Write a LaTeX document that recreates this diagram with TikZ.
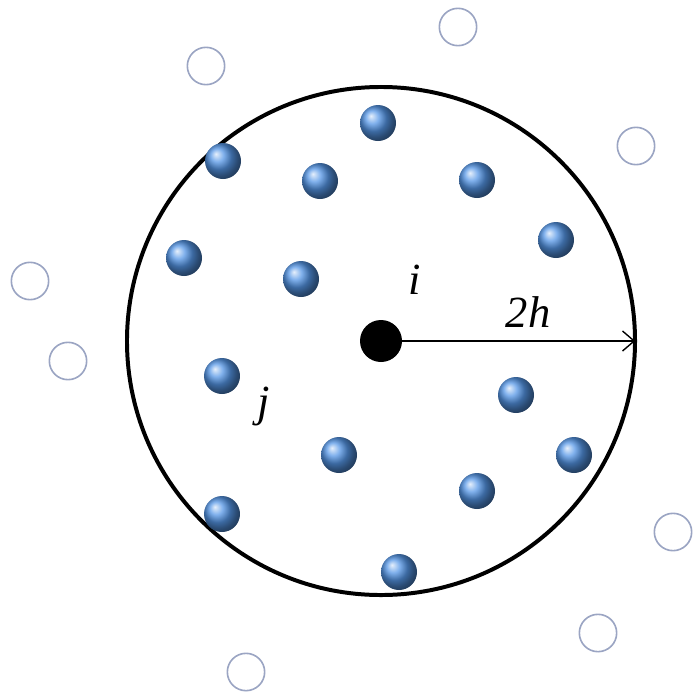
\documentclass[tikz,border=0pt]{standalone}
\usepackage{fontspec}
\setmainfont{Liberation Serif}
\usepackage{tikz}
\usetikzlibrary{arrows.meta}
\usepackage{xcolor}
\definecolor{particleblue}{RGB}{85,150,230}
\definecolor{ghostgray}{RGB}{155,165,195}
\tikzset{
    particle/.style={circle, inner sep=0pt, minimum size=1.08cm, shading=ball, ball color=particleblue},
    ghost/.style={circle, inner sep=0pt, minimum size=1.12cm, draw=ghostgray, line width=1.4pt},
    bigfont/.style={font=\fontsize{38}{46}\selectfont\itshape}
}

\begin{document}
\begin{tikzpicture}[x=0.03cm, y=-0.03cm, >={Straight Barb[length=0.35cm, width=0.6cm, line width=1.2pt]}]
    \useasboundingbox (0,0) rectangle (692,698);

    % Support domain of particle i
    \node[draw, circle, line width=3.4pt, inner sep=0pt, minimum size=15.24cm] (domain) at (381,341) {};

    % Particle i
    \node[circle, fill=black, inner sep=0pt, minimum size=1.26cm] (i) at (381,341) {};
    \node[bigfont] (ilabel) at (415,280) {i};

    % Radius 2h
    \draw[->, line width=1.6pt, shorten >=1.5pt] (i.east) -- (domain.east);
    \node[bigfont] (rlabel) at (528,312) {2h};

    % Neighbour particles j
    \node[particle] (p1) at (378,123) {};
    \node[particle] (p2) at (223,161) {};
    \node[particle] (p3) at (320,181) {};
    \node[particle] (p4) at (477,180) {};
    \node[particle] (p5) at (556,240) {};
    \node[particle] (p6) at (184,258) {};
    \node[particle] (p7) at (301,279) {};
    \node[particle] (p8) at (222,376) {};
    \node[particle] (p9) at (516,395) {};
    \node[particle] (p10) at (339,455) {};
    \node[particle] (p11) at (574,455) {};
    \node[particle] (p12) at (477,491) {};
    \node[particle] (p13) at (222,514) {};
    \node[particle] (p14) at (399,572) {};
    \node[bigfont] (jlabel) at (264,406) {j};

    % Particles outside the domain
    \node[ghost] (g1) at (458,27) {};
    \node[ghost] (g2) at (206,66) {};
    \node[ghost] (g3) at (636,146) {};
    \node[ghost] (g4) at (30,281) {};
    \node[ghost] (g5) at (68,361) {};
    \node[ghost] (g6) at (673,532) {};
    \node[ghost] (g7) at (598,633) {};
    \node[ghost] (g8) at (246,672) {};
\end{tikzpicture}
\end{document}
